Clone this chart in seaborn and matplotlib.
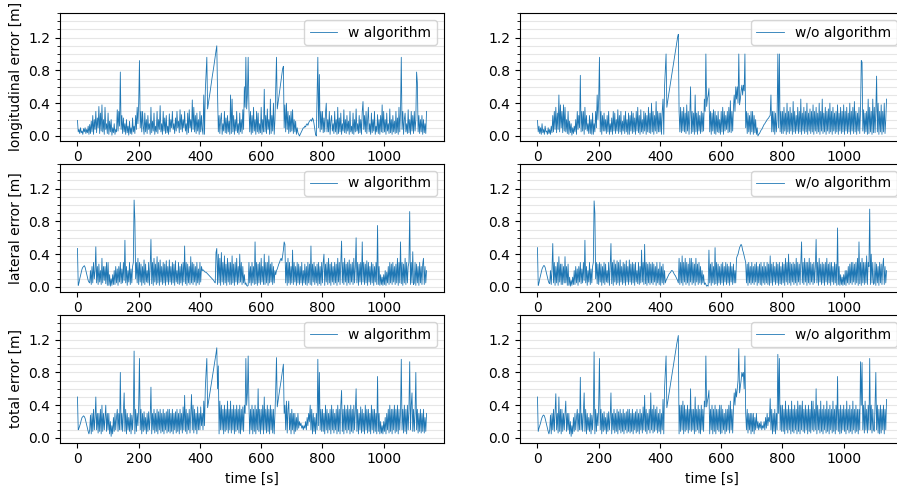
import numpy as np
import pandas as pd
import matplotlib
matplotlib.use("Agg")
import matplotlib.pyplot as plt
from matplotlib.ticker import MultipleLocator
import seaborn as sns

STEP = 2.5  # seconds between samples

long_w = [
    0.19, 0.05, 0.08, 0.03, 0.1, 0.04, 0.06, 0.02, 0.09, 0.05, 0.1, 0.03, 0.08, 0.04, 0.12, 0.02, 0.14, 0.03, 0.18, 0.05,
    0.25, 0.02, 0.2, 0.08, 0.3, 0.04, 0.22, 0.1, 0.36, 0.03, 0.28, 0.06, 0.38, 0.05, 0.2, 0.02, 0.35, 0.08, 0.15, 0.03,
    0.28, 0.02, 0.18, 0.05, 0.2, 0.01, 0.1, 0.04, 0.15, 0.02, 0.08, 0.05, 0.32, 0.06, 0.3, 0.12, 0.78, 0.08, 0.25, 0.03,
    0.22, 0.05, 0.15, 0.02, 0.2, 0.04, 0.12, 0.01, 0.18, 0.03, 0.1, 0.02, 0.22, 0.05, 0.12, 0.03, 0.25, 0.08, 0.35, 0.15,
    0.4, 0.92, 0.1, 0.3, 0.05, 0.3, 0.12, 0.02, 0.28, 0.05, 0.2, 0.03, 0.25, 0.08, 0.15, 0.02, 0.35, 0.04, 0.18, 0.06,
    0.28, 0.02, 0.12, 0.05, 0.3, 0.03, 0.2, 0.08, 0.37, 0.05, 0.15, 0.02, 0.3, 0.06, 0.22, 0.03, 0.25, 0.04, 0.12, 0.02,
    0.27, 0.05, 0.2, 0.1, 0.3, 0.08, 0.15, 0.03, 0.22, 0.06, 0.3, 0.1, 0.18, 0.04, 0.32, 0.08, 0.26, 0.05, 0.2, 0.1,
    0.3, 0.06, 0.15, 0.02, 0.28, 0.04, 0.32, 0.1, 0.2, 0.05, 0.44, 0.08, 0.35, 0.05, 0.25, 0.03, 0.28, 0.06, 0.2, 0.02,
    0.3, 0.05, 0.25, 0.08, 0.02, 0.5, 0.02, 0.55, 0.75, 0.96, 0.33, 0.4, 0.46, 0.52, 0.59, 0.65, 0.72, 0.78, 0.84, 0.91,
    0.97, 1.04, 1.1, 0.52, 0.05, 0.25, 0.03, 0.2, 0.28, 0.02, 0.15, 0.06, 0.3, 0.04, 0.22, 0.03, 0.25, 0.05, 0.18, 0.02,
    0.5, 0.03, 0.45, 0.05, 0.25, 0.02, 0.2, 0.06, 0.3, 0.04, 0.15, 0.02, 0.28, 0.05, 0.2, 0.03, 0.32, 0.08, 0.6, 0.35,
    0.96, 0.33, 0.5, 0.96, 0.35, 0.05, 0.3, 0.02, 0.25, 0.04, 0.35, 0.06, 0.2, 0.02, 0.3, 0.05, 0.28, 0.03, 0.15, 0.04,
    0.35, 0.02, 0.2, 0.05, 0.57, 0.05, 0.25, 0.03, 0.33, 0.08, 0.2, 0.02, 0.45, 0.03, 0.25, 0.06, 0.4, 0.02, 0.2, 0.6,
    0.96, 0.33, 0.4, 0.47, 0.54, 0.61, 0.68, 0.75, 0.82, 0.85, 0.1, 0.38, 0.05, 0.4, 0.08, 0.3, 0.03, 0.25, 0.05, 0.3,
    0.06, 0.32, 0.03, 0.2, 0.05, 0.18, 0.02, 0.1, 0.04, 0.02, 0.0, 0.02, 0.04, 0.06, 0.08, 0.1, 0.1, 0.12, 0.11, 0.14,
    0.15, 0.13, 0.16, 0.18, 0.19, 0.2, 0.18, 0.22, 0.2, 0.15, 0.08, 0.02, 0.0, 0.45, 0.96, 0.1, 0.75, 0.05, 0.3, 0.08,
    0.3, 0.04, 0.22, 0.05, 0.28, 0.4, 0.05, 0.2, 0.05, 0.3, 0.02, 0.18, 0.25, 0.06, 0.15, 0.03, 0.3, 0.05, 0.2, 0.02,
    0.35, 0.03, 0.22, 0.05, 0.28, 0.02, 0.15, 0.06, 0.32, 0.04, 0.2, 0.03, 0.25, 0.06, 0.18, 0.02, 0.3, 0.05, 0.12, 0.03,
    0.28, 0.02, 0.2, 0.05, 0.33, 0.06, 0.15, 0.03, 0.25, 0.04, 0.2, 0.02, 0.3, 0.42, 0.08, 0.25, 0.05, 0.3, 0.03, 0.2,
    0.35, 0.05, 0.15, 0.02, 0.28, 0.04, 0.2, 0.06, 0.3, 0.02, 0.12, 0.05, 0.26, 0.03, 0.2, 0.02, 0.25, 0.05, 0.38, 0.04,
    0.3, 0.05, 0.2, 0.02, 0.28, 0.06, 0.15, 0.03, 0.33, 0.04, 0.2, 0.02, 0.25, 0.05, 0.18, 0.03, 0.3, 0.04, 0.22, 0.02,
    0.35, 0.05, 0.3, 0.96, 0.08, 0.3, 0.02, 0.2, 0.28, 0.05, 0.15, 0.03, 0.32, 0.04, 0.2, 0.02, 0.3, 0.06, 0.25, 0.03,
    0.3, 0.06, 0.2, 0.78, 0.65, 0.05, 0.25, 0.03, 0.2, 0.05, 0.25, 0.02, 0.2, 0.04, 0.15, 0.03, 0.3,
]

long_wo = [
    0.19, 0.05, 0.12, 0.03, 0.1, 0.02, 0.15, 0.04, 0.08, 0.02, 0.12, 0.05, 0.06, 0.02, 0.1, 0.03, 0.08, 0.02, 0.12, 0.04,
    0.25, 0.05, 0.3, 0.08, 0.35, 0.04, 0.28, 0.08, 0.5, 0.05, 0.38, 0.1, 0.3, 0.04, 0.38, 0.06, 0.35, 0.05, 0.2, 0.03,
    0.3, 0.02, 0.18, 0.04, 0.15, 0.01, 0.1, 0.03, 0.12, 0.05, 0.2, 0.02, 0.3, 0.08, 0.25, 0.1, 0.74, 0.05, 0.3, 0.06,
    0.3, 0.02, 0.35, 0.08, 0.25, 0.06, 0.15, 0.03, 0.25, 0.03, 0.2, 0.02, 0.28, 0.02, 0.15, 0.05, 0.3, 0.1, 0.5, 0.2,
    0.45, 0.96, 0.05, 0.3, 0.02, 0.25, 0.06, 0.28, 0.06, 0.2, 0.03, 0.25, 0.05, 0.3, 0.02, 0.15, 0.05, 0.22, 0.02, 0.3,
    0.06, 0.28, 0.03, 0.2, 0.06, 0.32, 0.03, 0.25, 0.05, 0.3, 0.02, 0.18, 0.06, 0.25, 0.03, 0.3, 0.05, 0.2, 0.02, 0.28,
    0.02, 0.25, 0.06, 0.3, 0.03, 0.28, 0.05, 0.22, 0.02, 0.3, 0.06, 0.35, 0.04, 0.25, 0.02, 0.32, 0.05, 0.2, 0.03, 0.3,
    0.06, 0.28, 0.02, 0.25, 0.05, 0.35, 0.04, 0.28, 0.03, 0.4, 0.05, 0.3, 0.02, 0.25, 0.06, 0.42, 0.03, 0.3, 0.05, 0.28,
    0.05, 0.28, 0.02, 0.3, 0.45, 0.02, 0.6, 0.8, 1.0, 0.35, 0.42, 0.48, 0.54, 0.6, 0.66, 0.72, 0.78, 0.84, 0.9, 0.96,
    1.02, 1.08, 1.14, 1.2, 1.24, 0.3, 0.05, 0.35, 0.04, 0.3, 0.06, 0.35, 0.05, 0.28, 0.03, 0.38, 0.06, 0.3, 0.02, 0.25,
    0.6, 0.03, 0.3, 0.05, 0.28, 0.02, 0.5, 0.05, 0.28, 0.02, 0.3, 0.06, 0.25, 0.03, 0.3, 0.05, 0.28, 0.06, 0.45, 0.3,
    1.0, 0.36, 0.45, 0.5, 0.58, 0.05, 0.3, 0.02, 0.28, 0.06, 0.32, 0.03, 0.3, 0.02, 0.25, 0.05, 0.3, 0.04, 0.2, 0.02,
    0.3, 0.05, 0.35, 0.02, 0.3, 0.06, 0.25, 0.08, 0.3, 0.04, 0.35, 0.05, 0.43, 0.04, 0.3, 0.06, 0.35, 0.5, 0.3, 0.6,
    0.45, 0.6, 0.4, 1.0, 0.38, 0.45, 0.55, 0.62, 0.5, 0.62, 0.55, 1.0, 0.1, 0.3, 0.03, 0.28, 0.05, 0.25, 0.02, 0.3,
    0.05, 0.3, 0.02, 0.25, 0.04, 0.2, 0.02, 0.1, 0.0, 0.02, 0.03, 0.05, 0.07, 0.08, 0.1, 0.12, 0.14, 0.15, 0.17, 0.18,
    0.2, 0.21, 0.22, 0.24, 0.25, 0.5, 0.05, 0.3, 0.05, 0.3, 0.02, 0.28, 0.05, 0.2, 1.0, 0.1, 1.0, 0.05, 0.3, 0.03,
    0.3, 0.03, 0.35, 0.06, 0.28, 0.02, 0.4, 0.05, 0.3, 0.03, 0.35, 0.06, 0.28, 0.02, 0.42, 0.05, 0.3, 0.03, 0.25, 0.06,
    0.35, 0.03, 0.3, 0.05, 0.45, 0.02, 0.28, 0.06, 0.35, 0.03, 0.3, 0.05, 0.4, 0.02, 0.28, 0.06, 0.33, 0.03, 0.3, 0.05,
    0.38, 0.02, 0.3, 0.06, 0.35, 0.03, 0.28, 0.05, 0.4, 0.02, 0.3, 0.06, 0.45, 0.03, 0.28, 0.05, 0.35, 0.02, 0.3, 0.06,
    0.33, 0.03, 0.4, 0.05, 0.3, 0.02, 0.35, 0.06, 0.28, 0.03, 0.3, 0.05, 0.38, 0.02, 0.28, 0.06, 0.35, 0.03, 0.3, 0.05,
    0.38, 0.02, 0.3, 0.06, 0.35, 0.03, 0.28, 0.05, 0.4, 0.02, 0.3, 0.06, 0.35, 0.03, 0.42, 0.05, 0.3, 0.02, 0.28, 0.06,
    0.35, 0.03, 0.3, 0.92, 0.9, 0.06, 0.32, 0.03, 0.28, 0.05, 0.3, 0.02, 0.45, 0.03, 0.35, 0.05, 0.3, 0.02, 0.45, 0.04,
    0.35, 0.04, 0.3, 0.73, 0.05, 0.4, 0.02, 0.3, 0.05, 0.38, 0.02, 0.3, 0.05, 0.4, 0.03, 0.2, 0.45,
]

lat_w = [
    0.47, 0.02, 0.05, 0.1, 0.14, 0.18, 0.22, 0.24, 0.25, 0.26, 0.24, 0.2, 0.16, 0.12, 0.08, 0.06, 0.05, 0.2, 0.03, 0.25,
    0.05, 0.3, 0.1, 0.2, 0.49, 0.05, 0.25, 0.03, 0.28, 0.06, 0.2, 0.03, 0.35, 0.05, 0.25, 0.08, 0.25, 0.04, 0.3, 0.02,
    0.3, 0.02, 0.15, 0.01, 0.1, 0.02, 0.15, 0.03, 0.2, 0.03, 0.25, 0.05, 0.22, 0.02, 0.25, 0.06, 0.3, 0.04, 0.22, 0.05,
    0.3, 0.08, 0.57, 0.05, 0.25, 0.02, 0.2, 0.06, 0.3, 0.03, 0.22, 0.05, 0.25, 0.3, 1.06, 0.82, 0.1, 0.3, 0.05, 0.35,
    0.03, 0.3, 0.06, 0.28, 0.02, 0.25, 0.05, 0.33, 0.03, 0.28, 0.06, 0.2, 0.05, 0.3, 0.02, 0.25, 0.58, 0.04, 0.3, 0.02,
    0.35, 0.06, 0.28, 0.03, 0.37, 0.05, 0.3, 0.02, 0.33, 0.06, 0.25, 0.03, 0.3, 0.05, 0.28, 0.02, 0.32, 0.06, 0.25, 0.03,
    0.33, 0.06, 0.25, 0.03, 0.3, 0.05, 0.28, 0.02, 0.32, 0.06, 0.2, 0.04, 0.3, 0.03, 0.25, 0.05, 0.28, 0.02, 0.3, 0.06,
    0.5, 0.04, 0.3, 0.02, 0.28, 0.05, 0.25, 0.03, 0.37, 0.05, 0.3, 0.03, 0.28, 0.06, 0.25, 0.02, 0.3, 0.05, 0.22, 0.03,
    0.3, 0.06, 0.25, 0.2, 0.21, 0.2, 0.19, 0.18, 0.18, 0.17, 0.16, 0.15, 0.14, 0.13, 0.12, 0.11, 0.1, 0.09, 0.08, 0.06,
    0.05, 0.42, 0.47, 0.03, 0.4, 0.05, 0.35, 0.02, 0.42, 0.06, 0.3, 0.03, 0.38, 0.05, 0.28, 0.02, 0.35, 0.06, 0.3, 0.03,
    0.3, 0.03, 0.38, 0.05, 0.28, 0.02, 0.3, 0.06, 0.35, 0.03, 0.25, 0.05, 0.4, 0.06, 0.3, 0.03, 0.25, 0.05, 0.15, 0.03,
    0.05, 0.02, 0.01, 0.02, 0.3, 0.05, 0.25, 0.02, 0.3, 0.05, 0.25, 0.03, 0.55, 0.04, 0.3, 0.02, 0.28, 0.05, 0.3, 0.03,
    0.35, 0.06, 0.25, 0.03, 0.4, 0.03, 0.3, 0.05, 0.3, 0.02, 0.38, 0.05, 0.28, 0.06, 0.3, 0.03, 0.25, 0.05, 0.2, 0.15,
    0.2, 0.22, 0.25, 0.28, 0.3, 0.33, 0.35, 0.32, 0.38, 0.45, 0.55, 0.52, 0.05, 0.3, 0.02, 0.35, 0.05, 0.3, 0.03, 0.25,
    0.05, 0.45, 0.03, 0.3, 0.06, 0.25, 0.02, 0.3, 0.05, 0.28, 0.03, 0.25, 0.05, 0.3, 0.02, 0.2, 0.05, 0.28, 0.03, 0.25,
    0.02, 0.3, 0.05, 0.28, 0.03, 0.5, 0.02, 0.28, 0.06, 0.3, 0.03, 0.25, 0.05, 0.28, 0.02, 0.3, 0.04, 0.25, 0.02, 0.3,
    0.05, 0.3, 0.4, 0.02, 0.28, 0.06, 0.3, 0.03, 0.35, 0.05, 0.28, 0.02, 0.3, 0.06, 0.25, 0.03, 0.3, 0.05, 0.28, 0.02,
    0.35, 0.06, 0.3, 0.03, 0.3, 0.56, 0.05, 0.3, 0.03, 0.35, 0.06, 0.28, 0.02, 0.3, 0.05, 0.33, 0.03, 0.28, 0.06, 0.3,
    0.03, 0.35, 0.05, 0.25, 0.6, 0.05, 0.3, 0.02, 0.28, 0.06, 0.3, 0.03, 0.55, 0.06, 0.3, 0.03, 0.28, 0.05, 0.32, 0.02,
    0.3, 0.06, 0.25, 0.03, 0.3, 0.05, 0.28, 0.02, 0.25, 0.06, 0.3, 0.03, 0.75, 0.03, 0.25, 0.02, 0.15, 0.03, 0.12, 0.02,
    0.15, 0.03, 0.2, 0.02, 0.18, 0.05, 0.25, 0.03, 0.3, 0.05, 0.28, 0.03, 0.3, 0.06, 0.25, 0.03, 0.28, 0.05, 0.35, 0.02,
    0.3, 0.05, 0.55, 0.04, 0.3, 0.02, 0.28, 0.05, 0.35, 0.03, 0.3, 0.05, 0.25, 0.3, 0.92, 0.03, 0.3, 0.05, 0.43, 0.03,
    0.05, 0.3, 0.02, 0.28, 0.05, 0.25, 0.02, 0.3, 0.05, 0.25, 0.03, 0.28, 0.35, 0.03, 0.25, 0.05, 0.2,
]

lat_wo = [
    0.48, 0.02, 0.05, 0.1, 0.14, 0.18, 0.22, 0.24, 0.26, 0.26, 0.24, 0.2, 0.16, 0.12, 0.08, 0.05, 0.04, 0.2, 0.03, 0.22,
    0.53, 0.05, 0.3, 0.02, 0.25, 0.05, 0.3, 0.02, 0.37, 0.06, 0.28, 0.03, 0.28, 0.03, 0.25, 0.05, 0.37, 0.05, 0.25, 0.02,
    0.28, 0.02, 0.12, 0.01, 0.08, 0.02, 0.12, 0.03, 0.2, 0.03, 0.25, 0.05, 0.22, 0.02, 0.25, 0.06, 0.3, 0.04, 0.22, 0.05,
    0.3, 0.08, 0.57, 0.05, 0.25, 0.02, 0.2, 0.06, 0.3, 0.03, 0.22, 0.05, 0.25, 0.3, 1.05, 0.9, 0.1, 0.3, 0.04, 0.28,
    0.03, 0.3, 0.06, 0.28, 0.02, 0.25, 0.05, 0.3, 0.03, 0.28, 0.06, 0.2, 0.05, 0.3, 0.02, 0.25, 0.53, 0.04, 0.3, 0.02,
    0.33, 0.06, 0.28, 0.03, 0.32, 0.05, 0.3, 0.02, 0.33, 0.06, 0.25, 0.03, 0.3, 0.05, 0.28, 0.02, 0.32, 0.06, 0.25, 0.03,
    0.33, 0.06, 0.28, 0.03, 0.3, 0.05, 0.28, 0.02, 0.3, 0.06, 0.2, 0.04, 0.3, 0.03, 0.25, 0.05, 0.45, 0.06, 0.3, 0.03,
    0.52, 0.04, 0.3, 0.02, 0.28, 0.05, 0.3, 0.03, 0.28, 0.05, 0.3, 0.03, 0.28, 0.06, 0.25, 0.02, 0.3, 0.05, 0.22, 0.03,
    0.3, 0.02, 0.25, 0.05, 0.28, 0.03, 0.2, 0.05, 0.08, 0.1, 0.12, 0.14, 0.16, 0.17, 0.18, 0.2, 0.2, 0.19, 0.17, 0.15,
    0.14, 0.12, 0.1, 0.08, 0.05, 0.35, 0.03, 0.3, 0.05, 0.38, 0.02, 0.3, 0.06, 0.35, 0.03, 0.3, 0.05, 0.28, 0.02, 0.35,
    0.06, 0.35, 0.03, 0.3, 0.05, 0.28, 0.02, 0.35, 0.06, 0.28, 0.03, 0.3, 0.05, 0.25, 0.03, 0.2, 0.05, 0.15, 0.03, 0.05,
    0.03, 0.01, 0.02, 0.01, 0.45, 0.05, 0.28, 0.02, 0.3, 0.05, 0.25, 0.03, 0.48, 0.04, 0.3, 0.02, 0.28, 0.05, 0.25, 0.03,
    0.28, 0.05, 0.3, 0.02, 0.25, 0.06, 0.3, 0.03, 0.28, 0.05, 0.25, 0.02, 0.3, 0.06, 0.25, 0.03, 0.28, 0.05, 0.2, 0.05,
    0.35, 0.38, 0.4, 0.44, 0.48, 0.5, 0.52, 0.5, 0.45, 0.42, 0.38, 0.34, 0.3, 0.05, 0.28, 0.02, 0.3, 0.05, 0.25, 0.03,
    0.3, 0.05, 0.25, 0.03, 0.28, 0.06, 0.3, 0.02, 0.25, 0.05, 0.28, 0.03, 0.3, 0.02, 0.25, 0.05, 0.3, 0.03, 0.25, 0.05,
    0.3, 0.03, 0.28, 0.02, 0.38, 0.05, 0.28, 0.02, 0.3, 0.06, 0.25, 0.03, 0.3, 0.05, 0.28, 0.02, 0.3, 0.04, 0.25, 0.03,
    0.3, 0.05, 0.28, 0.02, 0.35, 0.06, 0.3, 0.03, 0.4, 0.05, 0.3, 0.02, 0.28, 0.06, 0.3, 0.03, 0.28, 0.05, 0.35, 0.02,
    0.3, 0.06, 0.28, 0.03, 0.3, 0.55, 0.05, 0.3, 0.03, 0.35, 0.06, 0.3, 0.02, 0.3, 0.05, 0.35, 0.03, 0.3, 0.06, 0.28,
    0.03, 0.3, 0.05, 0.25, 0.58, 0.05, 0.3, 0.02, 0.35, 0.06, 0.28, 0.03, 0.3, 0.05, 0.28, 0.02, 0.3, 0.06, 0.35, 0.03,
    0.28, 0.05, 0.3, 0.02, 0.3, 0.06, 0.25, 0.03, 0.3, 0.05, 0.28, 0.02, 0.72, 0.03, 0.25, 0.02, 0.15, 0.03, 0.12, 0.02,
    0.15, 0.03, 0.2, 0.02, 0.2, 0.05, 0.25, 0.03, 0.28, 0.05, 0.3, 0.03, 0.3, 0.06, 0.28, 0.03, 0.3, 0.05, 0.35, 0.02,
    0.55, 0.04, 0.3, 0.02, 0.35, 0.05, 0.3, 0.03, 0.3, 0.05, 0.38, 0.03, 0.3, 0.25, 0.95, 0.03, 0.4, 0.05, 0.3, 0.03,
    0.05, 0.3, 0.02, 0.28, 0.05, 0.25, 0.02, 0.3, 0.05, 0.28, 0.03, 0.25, 0.35, 0.03, 0.25, 0.05, 0.2,
]

tot_w = [
    0.5, 0.1, 0.12, 0.15, 0.18, 0.22, 0.25, 0.26, 0.27, 0.26, 0.24, 0.2, 0.16, 0.12, 0.08, 0.05, 0.1, 0.28, 0.05, 0.3,
    0.08, 0.35, 0.1, 0.25, 0.5, 0.1, 0.3, 0.06, 0.3, 0.08, 0.35, 0.05, 0.4, 0.08, 0.3, 0.1, 0.25, 0.4, 0.08, 0.3,
    0.1, 0.3, 0.05, 0.2, 0.02, 0.15, 0.05, 0.25, 0.08, 0.3, 0.1, 0.25, 0.35, 0.08, 0.3, 0.1, 0.8, 0.1, 0.3, 0.08,
    0.3, 0.55, 0.08, 0.35, 0.05, 0.3, 0.1, 0.25, 0.08, 0.3, 0.05, 0.28, 0.1, 0.3, 1.06, 0.05, 0.35, 0.08, 0.3, 0.15,
    0.4, 0.97, 0.1, 0.35, 0.05, 0.3, 0.08, 0.32, 0.1, 0.25, 0.05, 0.3, 0.08, 0.32, 0.1, 0.25, 0.62, 0.05, 0.3, 0.1,
    0.35, 0.06, 0.3, 0.08, 0.35, 0.05, 0.32, 0.1, 0.35, 0.06, 0.3, 0.08, 0.35, 0.05, 0.3, 0.1, 0.32, 0.06, 0.35, 0.08,
    0.35, 0.06, 0.3, 0.08, 0.35, 0.05, 0.3, 0.1, 0.32, 0.06, 0.35, 0.08, 0.3, 0.05, 0.35, 0.1, 0.3, 0.06, 0.38, 0.1,
    0.52, 0.08, 0.35, 0.05, 0.3, 0.1, 0.35, 0.06, 0.3, 0.53, 0.1, 0.4, 0.06, 0.35, 0.1, 0.3, 0.05, 0.38, 0.1, 0.3,
    0.1, 0.38, 0.15, 0.3, 0.1, 0.45, 0.15, 0.6, 0.8, 0.97, 0.37, 0.43, 0.49, 0.55, 0.61, 0.67, 0.73, 0.79, 0.85, 0.91,
    0.97, 1.03, 1.1, 0.6, 0.88, 0.05, 0.45, 0.1, 0.4, 0.1, 0.35, 0.05, 0.4, 0.08, 0.35, 0.1, 0.45, 0.06, 0.35, 0.1,
    0.45, 0.06, 0.35, 0.1, 0.4, 0.05, 0.35, 0.08, 0.4, 0.1, 0.35, 0.06, 0.4, 0.05, 0.35, 0.1, 0.38, 0.08, 0.4, 0.3,
    0.97, 0.4, 0.55, 1.0, 0.4, 0.05, 0.35, 0.1, 0.4, 0.05, 0.35, 0.08, 0.4, 0.05, 0.35, 0.1, 0.6, 0.08, 0.35, 0.05,
    0.35, 0.1, 0.4, 0.05, 0.5, 0.1, 0.35, 0.06, 0.4, 0.08, 0.35, 0.05, 0.4, 0.1, 0.35, 0.06, 0.35, 0.05, 0.3, 0.6,
    0.98, 0.38, 0.45, 0.52, 0.58, 0.64, 0.7, 0.77, 0.83, 0.9, 0.3, 0.4, 0.1, 0.45, 0.06, 0.35, 0.45, 0.1, 0.3, 0.05,
    0.35, 0.1, 0.3, 0.05, 0.3, 0.08, 0.25, 0.1, 0.3, 0.12, 0.2, 0.15, 0.18, 0.12, 0.15, 0.1, 0.15, 0.12, 0.2, 0.1,
    0.25, 0.15, 0.3, 0.2, 0.4, 0.1, 0.35, 0.05, 0.3, 0.08, 0.25, 0.05, 0.3, 0.1, 0.96, 0.15, 0.8, 0.1, 0.35, 0.08,
    0.35, 0.08, 0.3, 0.05, 0.4, 0.1, 0.35, 0.06, 0.3, 0.1, 0.35, 0.05, 0.4, 0.1, 0.35, 0.06, 0.3, 0.1, 0.35, 0.05,
    0.4, 0.08, 0.35, 0.05, 0.4, 0.58, 0.08, 0.35, 0.05, 0.4, 0.1, 0.35, 0.06, 0.4, 0.1, 0.35, 0.05, 0.4, 0.08, 0.35,
    0.06, 0.4, 0.1, 0.35, 0.6, 0.08, 0.35, 0.05, 0.3, 0.1, 0.38, 0.06, 0.35, 0.08, 0.3, 0.05, 0.4, 0.1, 0.35, 0.06,
    0.35, 0.08, 0.3, 0.05, 0.4, 0.1, 0.35, 0.06, 0.35, 0.08, 0.3, 0.05, 0.75, 0.08, 0.3, 0.05, 0.2, 0.06, 0.15, 0.05,
    0.2, 0.08, 0.25, 0.05, 0.3, 0.1, 0.35, 0.06, 0.4, 0.08, 0.35, 0.05, 0.35, 0.1, 0.4, 0.06, 0.35, 0.08, 0.4, 0.05,
    0.35, 0.1, 0.3, 0.96, 0.1, 0.35, 0.06, 0.4, 0.08, 0.35, 0.05, 0.4, 0.1, 0.35, 0.93, 0.1, 0.4, 0.55, 0.08, 0.35,
    0.08, 0.3, 0.8, 0.1, 0.35, 0.06, 0.3, 0.08, 0.35, 0.06, 0.3, 0.08, 0.35, 0.06, 0.25, 0.08, 0.3,
]

tot_wo = [
    0.5, 0.08, 0.12, 0.15, 0.18, 0.22, 0.25, 0.27, 0.28, 0.27, 0.24, 0.2, 0.16, 0.12, 0.08, 0.05, 0.1, 0.28, 0.05, 0.3,
    0.1, 0.35, 0.08, 0.3, 0.54, 0.1, 0.3, 0.06, 0.5, 0.08, 0.35, 0.05, 0.35, 0.08, 0.3, 0.1, 0.3, 0.45, 0.08, 0.3,
    0.1, 0.3, 0.05, 0.2, 0.02, 0.15, 0.05, 0.25, 0.08, 0.3, 0.1, 0.25, 0.35, 0.08, 0.3, 0.1, 0.74, 0.1, 0.3, 0.08,
    0.3, 0.55, 0.08, 0.35, 0.05, 0.3, 0.1, 0.25, 0.08, 0.3, 0.05, 0.28, 0.1, 0.3, 1.05, 0.05, 0.35, 0.08, 0.3, 0.15,
    0.4, 0.97, 0.1, 0.35, 0.05, 0.3, 0.08, 0.32, 0.1, 0.25, 0.05, 0.3, 0.08, 0.32, 0.1, 0.25, 0.55, 0.05, 0.3, 0.1,
    0.35, 0.06, 0.3, 0.08, 0.35, 0.05, 0.32, 0.1, 0.35, 0.06, 0.3, 0.08, 0.35, 0.05, 0.3, 0.1, 0.32, 0.06, 0.35, 0.08,
    0.35, 0.06, 0.3, 0.08, 0.35, 0.05, 0.3, 0.1, 0.32, 0.06, 0.35, 0.08, 0.3, 0.05, 0.35, 0.1, 0.3, 0.06, 0.38, 0.1,
    0.52, 0.08, 0.35, 0.05, 0.3, 0.1, 0.35, 0.06, 0.55, 0.1, 0.35, 0.06, 0.4, 0.08, 0.35, 0.1, 0.38, 0.06, 0.3, 0.08,
    0.35, 0.05, 0.3, 0.1, 0.47, 0.05, 0.6, 0.8, 1.0, 0.37, 0.43, 0.49, 0.55, 0.61, 0.67, 0.73, 0.79, 0.85, 0.91, 0.97,
    1.03, 1.09, 1.15, 1.2, 1.25, 0.05, 0.4, 0.08, 0.4, 0.1, 0.45, 0.05, 0.4, 0.08, 0.35, 0.1, 0.4, 0.06, 0.35, 0.1,
    0.6, 0.08, 0.35, 0.1, 0.35, 0.05, 0.5, 0.08, 0.35, 0.1, 0.4, 0.06, 0.35, 0.05, 0.4, 0.1, 0.35, 0.08, 0.45, 0.38,
    1.0, 0.38, 0.45, 0.5, 0.58, 0.05, 0.35, 0.1, 0.4, 0.05, 0.35, 0.08, 0.4, 0.05, 0.35, 0.1, 0.35, 0.08, 0.4, 0.05,
    0.4, 0.06, 0.35, 0.1, 0.3, 0.05, 0.35, 0.08, 0.35, 0.1, 0.4, 0.06, 0.45, 0.1, 0.35, 0.06, 0.35, 0.55, 0.4, 0.6,
    0.5, 0.6, 0.7, 1.09, 0.55, 0.62, 0.7, 0.8, 0.75, 0.8, 0.6, 1.0, 0.3, 0.1, 0.35, 0.06, 0.3, 0.1, 0.3, 0.05,
    0.3, 0.08, 0.3, 0.05, 0.25, 0.1, 0.3, 0.12, 0.2, 0.1, 0.18, 0.12, 0.2, 0.1, 0.15, 0.12, 0.2, 0.1, 0.25, 0.12,
    0.3, 0.15, 0.25, 0.2, 0.48, 0.1, 0.35, 0.05, 0.3, 0.08, 0.35, 0.05, 0.3, 0.1, 1.02, 0.3, 0.97, 0.1, 0.4, 0.08,
    0.4, 0.08, 0.35, 0.05, 0.45, 0.1, 0.35, 0.06, 0.4, 0.1, 0.35, 0.05, 0.45, 0.08, 0.35, 0.06, 0.4, 0.1, 0.35, 0.05,
    0.45, 0.08, 0.4, 0.05, 0.4, 0.1, 0.45, 0.08, 0.35, 0.06, 0.4, 0.1, 0.35, 0.05, 0.4, 0.08, 0.35, 0.06, 0.45, 0.1,
    0.45, 0.08, 0.35, 0.1, 0.6, 0.05, 0.4, 0.1, 0.35, 0.06, 0.45, 0.08, 0.35, 0.05, 0.4, 0.1, 0.35, 0.06, 0.45, 0.08,
    0.35, 0.05, 0.4, 0.1, 0.35, 0.06, 0.45, 0.08, 0.35, 0.05, 0.4, 0.1, 0.75, 0.08, 0.35, 0.05, 0.4, 0.06, 0.35, 0.1,
    0.4, 0.08, 0.35, 0.05, 0.45, 0.1, 0.35, 0.06, 0.4, 0.08, 0.35, 0.05, 0.45, 0.1, 0.35, 0.06, 0.4, 0.08, 0.35, 0.05,
    0.35, 0.1, 0.93, 0.4, 0.92, 0.1, 0.4, 0.06, 0.45, 0.1, 0.35, 0.06, 0.4, 0.1, 0.97, 0.1, 0.4, 0.06, 0.35, 0.1,
    0.08, 0.4, 0.8, 0.1, 0.4, 0.06, 0.35, 0.05, 0.4, 0.06, 0.35, 0.1, 0.4, 0.05, 0.35, 0.1, 0.47,
]

row_labels = ["longitudinal error [m]", "lateral error [m]", "total error [m]"]
col_labels = ["w algorithm", "w/o algorithm"]
series = [[long_w, long_wo], [lat_w, lat_wo], [tot_w, tot_wo]]
xlabel = "time [s]"

fig = plt.figure(figsize=(8.97, 4.91), dpi=100)
W, H = 897.0, 491.0
col_x = [60 / W, 520 / W]
ax_w = 384 / W
row_top = [13, 164, 315]
ax_h = 127.5 / H
color = "#1f77b4"

for r in range(3):
    for c in range(2):
        vals = series[r][c]
        df = pd.DataFrame({"t": np.arange(len(vals)) * STEP, "v": vals})
        bottom = 1 - (row_top[r] + 127.5) / H
        ax = fig.add_axes([col_x[c], bottom, ax_w, ax_h])
        sns.lineplot(data=df, x="t", y="v", ax=ax, estimator=None, sort=False,
                     color=color, linewidth=0.6, label=col_labels[c])
        ax.set_xlim(-57, 1197)
        ax.set_ylim(-0.055, 1.5)
        ax.yaxis.set_major_locator(MultipleLocator(0.4))
        ax.yaxis.set_minor_locator(MultipleLocator(0.1))
        ax.set_xticks([0, 200, 400, 600, 800, 1000])
        ax.grid(True, axis="y", which="both", color="#e6e6e6", linewidth=0.8)
        ax.set_axisbelow(True)
        ax.tick_params(labelsize=10)
        ax.set_ylabel(row_labels[r] if c == 0 else "", fontsize=10)
        ax.set_xlabel(xlabel if r == 2 else "", fontsize=10)
        ax.legend(loc="upper right", fontsize=10)

fig.savefig("out.png", dpi=100)
